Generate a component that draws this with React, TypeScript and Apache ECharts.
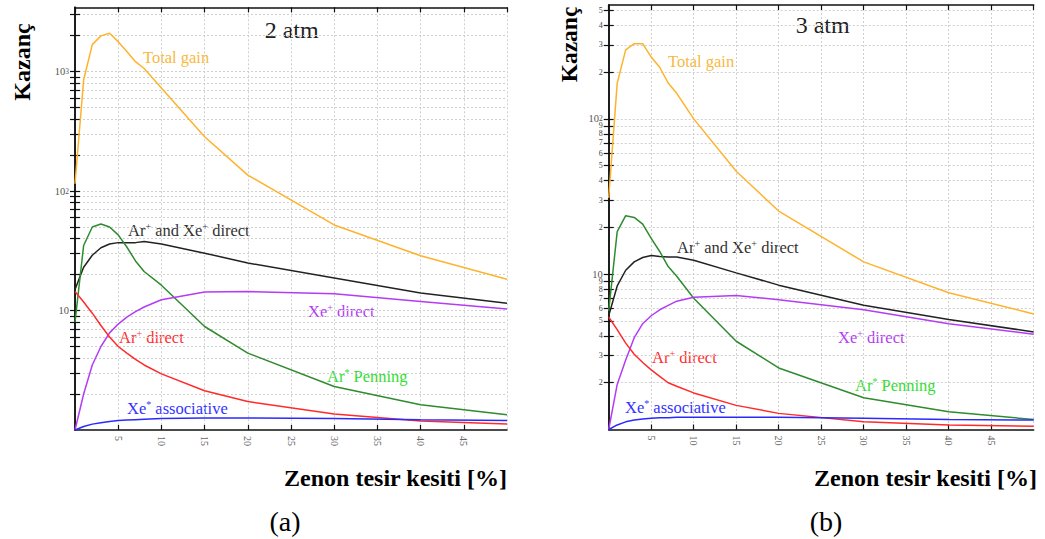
import React, { useEffect, useRef } from 'react';
import * as echarts from 'echarts';

const xValues = [0, 1, 2, 3, 4, 5, 6, 7, 8, 10, 15, 20, 30, 40, 50];

// (a) 2 atm
const total2 = [115, 850, 1680, 1990, 2090, 1780, 1470, 1210, 1060, 730, 285, 136, 52, 28.7, 18.3];
const arXe2 = [15, 23, 29, 33.5, 36, 37, 37, 37, 37.8, 36, 30.2, 25, 18.7, 14, 11.5];
const penning2 = [8, 35, 50, 53, 50, 43, 34, 26, 21.2, 16.3, 7.35, 4.4, 2.31, 1.63, 1.34];
const xeDirect2 = [1.0, 2.0, 3.5, 5.0, 6.5, 7.7, 8.8, 9.8, 10.7, 12.3, 14.3, 14.4, 13.8, 11.9, 10.3];
const arDirect2 = [14.4, 11.8, 9.5, 7.5, 6.0, 5.0, 4.4, 3.9, 3.5, 2.95, 2.13, 1.73, 1.36, 1.19, 1.12];
const xeAssoc2 = [1.0, 1.07, 1.12, 1.15, 1.18, 1.2, 1.21, 1.22, 1.23, 1.25, 1.26, 1.26, 1.25, 1.22, 1.2];

// (b) 3 atm
const total3 = [31, 170, 278, 305, 305, 250, 215, 170, 146, 100, 46, 25.5, 12, 7.6, 5.55];
const arXe3 = [5.4, 8.4, 10.6, 12, 12.8, 13.2, 13.0, 12.9, 12.9, 12.3, 10.2, 8.5, 6.3, 5.1, 4.25];
const penning3 = [5.8, 18.8, 23.8, 23.2, 21, 17, 14, 11.2, 9.7, 7.0, 3.7, 2.49, 1.6, 1.3, 1.16];
const xeDirect3 = [1.0, 1.95, 2.8, 3.9, 4.8, 5.4, 5.9, 6.3, 6.7, 7.1, 7.3, 6.85, 5.9, 4.8, 4.1];
const arDirect3 = [5.3, 4.4, 3.6, 3.05, 2.7, 2.42, 2.2, 2.0, 1.9, 1.72, 1.43, 1.27, 1.12, 1.07, 1.05];
const xeAssoc3 = [1.0, 1.07, 1.12, 1.15, 1.17, 1.18, 1.19, 1.19, 1.2, 1.2, 1.2, 1.2, 1.18, 1.16, 1.15];

const yTicks2 = [2, 3, 4, 5, 6, 7, 8, 9, 10, 20, 30, 40, 50, 60, 70, 80, 90, 100, 200, 300, 400, 500, 600, 700, 800, 900, 1000, 2000, 3000];
const yLabels2 = [10, 100, 1000];
const yTicks3 = [2, 3, 4, 5, 6, 7, 8, 9, 10, 20, 30, 40, 50, 60, 70, 80, 90, 100, 200, 300, 400, 500];
const yLabels3 = [2, 3, 4, 5, 6, 7, 8, 9, 10, 20, 30, 40, 50, 60, 70, 80, 90, 100, 200, 300, 400, 500];

const seriesNames = ['Total gain', 'Ar+ and Xe+ direct', 'Ar* Penning', 'Xe+ direct', 'Ar+ direct', 'Xe* associative'];
const lineColors = ['#FFB22C', '#222222', '#2E8B2E', '#B43CF5', '#FF2A2A', '#2A2AFF'];
const labelColors = ['#F9B840', '#333333', '#33DD33', '#B43CF5', '#FF3030', '#3333FF'];

const SERIF = 'Liberation Serif';

function fmtLabel(v: number) {
  const l = Math.log10(v);
  const r = Math.round(l);
  if (Math.abs(l - r) < 1e-6) {
    if (r <= 1) return '{b|10}';
    return '{b|10}{s|' + r + '}';
  }
  return '{m|' + Math.round(v / Math.pow(10, Math.floor(l + 1e-9))) + '}';
}

const richLbl = {
  b: { fontSize: 10.5, fontFamily: SERIF, color: '#555', lineHeight: 8 },
  s: { fontSize: 7.5, fontFamily: SERIF, color: '#555', verticalAlign: 'top', lineHeight: 8 },
  m: { fontSize: 8, fontFamily: SERIF, color: '#444', lineHeight: 7 },
};

function lbl(x: number, y: number, parts: [string, boolean][], color: string) {
  const text = parts.map(([t, sup]) => (sup ? '{s|' + t + '}' : '{n|' + t + '}')).join('');
  return {
    type: 'text',
    x,
    y,
    style: {
      text,
      align: 'left',
      verticalAlign: 'middle',
      rich: {
        n: { fontSize: 16.5, fontFamily: SERIF, fill: color, color, lineHeight: 18 },
        s: { fontSize: 10, fontFamily: SERIF, fill: color, color, verticalAlign: 'top', lineHeight: 18 },
      },
    },
  };
}

export default function App() {
  const ref = useRef<HTMLDivElement>(null);
  useEffect(() => {
    if (!ref.current) return;
    const chart = echarts.init(ref.current, undefined, { renderer: 'svg' });

    const grids = [
      { left: 75, top: 7.3, width: 432, height: 422.7 },
      { left: 608.7, top: 5, width: 425, height: 424.5 },
    ];
    const yMax = [3450, 541];
    const tickSets = [yTicks2, yTicks3];
    const labelSets = [yLabels2, yLabels3];

    const axisLine = { show: true, lineStyle: { color: '#111', width: 1.5 } };
    const xAxis: any[] = [];
    const yAxis: any[] = [];
    [0, 1].forEach((g) => {
      xAxis.push({
        type: 'value', gridIndex: g, min: 0, max: 50, interval: 5, position: 'bottom',
        axisLine,
        axisTick: { show: true, inside: true, length: 5, lineStyle: { color: '#111', width: 1.2 } },
        axisLabel: {
          show: true, rotate: -90, margin: 6, fontSize: 10, fontFamily: SERIF, color: '#666',
          showMinLabel: false, showMaxLabel: false,
          formatter: (v: number) => (v === 0 || v === 50 ? '' : String(v)),
        },
        splitLine: { show: true, lineStyle: { color: '#cfcfcf', type: [2, 2], width: 1 } },
      });
      xAxis.push({
        type: 'value', gridIndex: g, min: 0, max: 50, interval: 5, position: 'top',
        axisLine,
        axisTick: { show: true, inside: true, length: 5, lineStyle: { color: '#111', width: 1.2 } },
        axisLabel: { show: false },
        splitLine: { show: false },
      });
      yAxis.push({
        type: 'log', logBase: 10, gridIndex: g, min: 1, max: yMax[g], position: 'left',
        axisLine,
        axisTick: { show: true, inside: true, length: 5, customValues: tickSets[g], lineStyle: { color: '#111', width: 1.2 } },
        axisLabel: {
          show: true, margin: 6, customValues: labelSets[g], formatter: fmtLabel, rich: richLbl,
        },
        splitLine: { show: true, lineStyle: { color: '#cfcfcf', type: [2, 2], width: 1 } },
      });
      yAxis.push({
        type: 'log', logBase: 10, gridIndex: g, min: 1, max: yMax[g], position: 'right',
        axisLine,
        axisTick: { show: true, inside: true, length: 5, customValues: tickSets[g], lineStyle: { color: '#111', width: 1.2 } },
        axisLabel: { show: false },
        splitLine: { show: false },
      });
    });

    const sets = [
      [total2, arXe2, penning2, xeDirect2, arDirect2, xeAssoc2],
      [total3, arXe3, penning3, xeDirect3, arDirect3, xeAssoc3],
    ];
    const series: any[] = [];
    sets.forEach((set, g) => {
      set.forEach((vals, i) => {
        series.push({
          type: 'line',
          name: seriesNames[i] + (g === 0 ? ' (2 atm)' : ' (3 atm)'),
          xAxisIndex: g * 2,
          yAxisIndex: g * 2,
          data: xValues.map((x, k) => [x, vals[k]]),
          showSymbol: false,
          smooth: false,
          lineStyle: { color: lineColors[i], width: 1.5 },
          itemStyle: { color: lineColors[i] },
          z: 3,
        });
      });
    });

    const titleFont = (size: number, bold = false) => ({
      fontSize: size, fontFamily: SERIF, fontWeight: bold ? 'bold' : 'normal',
    });

    const graphic: any[] = [
      { type: 'text', x: 291.7, y: 30, style: { text: '2 atm', ...titleFont(24), fill: '#222', align: 'center', verticalAlign: 'middle' } },
      { type: 'text', x: 822.7, y: 24.5, style: { text: '3 atm', ...titleFont(24), fill: '#222', align: 'center', verticalAlign: 'middle' } },
      { type: 'text', x: 22, y: 62, rotation: Math.PI / 2, style: { text: 'Kazanç', ...titleFont(24, true), fill: '#000', align: 'center', verticalAlign: 'middle' } },
      { type: 'text', x: 569, y: 44.5, rotation: Math.PI / 2, style: { text: 'Kazanç', ...titleFont(23.5, true), fill: '#000', align: 'center', verticalAlign: 'middle' } },
      { type: 'text', x: 507, y: 478, style: { text: 'Zenon tesir kesiti [%]', ...titleFont(24, true), fill: '#000', align: 'right', verticalAlign: 'middle' } },
      { type: 'text', x: 1037, y: 478, style: { text: 'Zenon tesir kesiti [%]', ...titleFont(24, true), fill: '#000', align: 'right', verticalAlign: 'middle' } },
      { type: 'text', x: 285, y: 521, style: { text: '(a)', ...titleFont(28), fill: '#000', align: 'center', verticalAlign: 'middle' } },
      { type: 'text', x: 826, y: 521, style: { text: '(b)', ...titleFont(28), fill: '#000', align: 'center', verticalAlign: 'middle' } },

      lbl(143, 57.5, [['Total gain', false]], labelColors[0]),
      lbl(128, 230, [['Ar', false], ['+', true], [' and Xe', false], ['+', true], [' direct', false]], labelColors[1]),
      lbl(327, 376, [['Ar', false], ['*', true], [' Penning', false]], labelColors[2]),
      lbl(308, 311, [['Xe', false], ['+', true], [' direct', false]], labelColors[3]),
      lbl(119, 337, [['Ar', false], ['+', true], [' direct', false]], labelColors[4]),
      lbl(127, 408, [['Xe', false], ['*', true], [' associative', false]], labelColors[5]),

      lbl(668, 61, [['Total gain', false]], labelColors[0]),
      lbl(677, 247, [['Ar', false], ['+', true], [' and Xe', false], ['+', true], [' direct', false]], labelColors[1]),
      lbl(855, 385, [['Ar', false], ['*', true], [' Penning', false]], labelColors[2]),
      lbl(838, 337.5, [['Xe', false], ['+', true], [' direct', false]], labelColors[3]),
      lbl(652, 357, [['Ar', false], ['+', true], [' direct', false]], labelColors[4]),
      lbl(625, 407, [['Xe', false], ['*', true], [' associative', false]], labelColors[5]),
    ];

    chart.setOption({
      animation: false,
      backgroundColor: '#ffffff',
      grid: grids,
      xAxis,
      yAxis,
      series,
      graphic,
    });
    return () => chart.dispose();
  }, []);
  return <div ref={ref} style={{ position: 'fixed', left: 0, top: 0, width: 1045, height: 539 }} />;
}
